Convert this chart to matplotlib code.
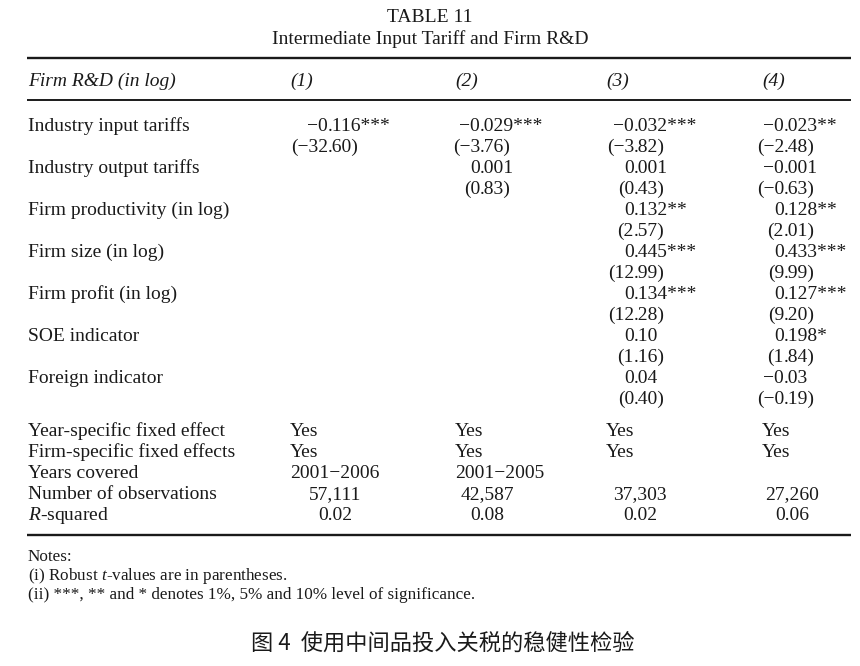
import matplotlib
matplotlib.use("Agg")
import matplotlib.pyplot as plt

# ---------------- data ----------------
title = "TABLE 11"
subtitle = "Intermediate Input Tariff and Firm R&D"
dep_var = "Firm R&D (in log)"
col_heads = ["(1)", "(2)", "(3)", "(4)"]

var_names = ["Industry input tariffs", "Industry output tariffs",
             "Firm productivity (in log)", "Firm size (in log)",
             "Firm profit (in log)", "SOE indicator", "Foreign indicator"]

coef_1 = ["\u22120.116***", "", "", "", "", "", ""]
coef_2 = ["\u22120.029***", "0.001", "", "", "", "", ""]
coef_3 = ["\u22120.032***", "0.001", "0.132**", "0.445***", "0.134***", "0.10", "0.04"]
coef_4 = ["\u22120.023**", "\u22120.001", "0.128**", "0.433***", "0.127***", "0.198*", "\u22120.03"]

tval_1 = ["(\u221232.60)", "", "", "", "", "", ""]
tval_2 = ["(\u22123.76)", "(0.83)", "", "", "", "", ""]
tval_3 = ["(\u22123.82)", "(0.43)", "(2.57)", "(12.99)", "(12.28)", "(1.16)", "(0.40)"]
tval_4 = ["(\u22122.48)", "(\u22120.63)", "(2.01)", "(9.99)", "(9.20)", "(1.84)", "(\u22120.19)"]

ctrl_labels = ["Year-specific fixed effect", "Firm-specific fixed effects", "Years covered"]
year_fe = ["Yes", "Yes", "Yes", "Yes"]
firm_fe = ["Yes", "Yes", "Yes", "Yes"]
years_covered = ["2001\u22122006", "2001\u22122005", "", ""]

stat_labels = ["Number of observations", "$R$-squared"]
n_obs = ["57,111", "42,587", "37,303", "27,260"]
r_squared = ["0.02", "0.08", "0.02", "0.06"]

notes = ["Notes:",
         "(i) Robust $t$-values are in parentheses.",
         "(ii) ***, ** and * denotes 1%, 5% and 10% level of significance."]
caption = "图 4  使用中间品投入关税的稳健性检验"

# ---------------- style ----------------
SERIF = ["Liberation Serif", "DejaVu Serif"]
plt.rcParams["font.family"] = SERIF
plt.rcParams["mathtext.fontset"] = "custom"
plt.rcParams["mathtext.rm"] = "Liberation Serif"
plt.rcParams["mathtext.it"] = "Liberation Serif:italic"
FS = 14.0
COL = "#1a1a1a"

fig = plt.figure(figsize=(8.6, 6.66), dpi=100)
ax = fig.add_axes([0, 0, 1, 1])
ax.set_xlim(0, 860)
ax.set_ylim(666, 0)
ax.axis("off")

LEFT = 28
LINE_X0, LINE_X1 = 27, 851
col_left = [290, 455, 606, 762]
col_dec = [328, 480, 634, 784]
col_ctr = [335, 487, 640, 792]


def t(x, y, s, ha="left", size=FS, style="normal", family=None):
    ax.text(x, y, s, ha=ha, va="baseline", fontsize=size, color=COL,
            style=style, family=family if family else SERIF)


def dec(x, y, s):
    if not s:
        return
    if "." in s:
        a, b = s.split(".", 1)
        t(x, y, a, ha="right")
        t(x, y, "." + b, ha="left")
    else:
        t(x, y, s, ha="center")


# titles
t(430, 22, title, ha="center")
t(430, 44, subtitle, ha="center")
ax.plot([LINE_X0, LINE_X1], [58, 58], color=COL, lw=1.7, solid_capstyle="butt")

# header
t(LEFT, 86, dep_var, style="italic")
for x, h in zip(col_left, col_heads):
    t(x, 86, h, style="italic")
ax.plot([LINE_X0, LINE_X1], [100, 100], color=COL, lw=1.4, solid_capstyle="butt")

# coefficient block
coefs = [coef_1, coef_2, coef_3, coef_4]
tvals = [tval_1, tval_2, tval_3, tval_4]
y0, step = 131, 42
for i, name in enumerate(var_names):
    yb = y0 + i * step
    t(LEFT, yb, name)
    for j in range(4):
        dec(col_dec[j], yb, coefs[j][i])
        dec(col_dec[j], yb + 21, tvals[j][i])

# controls block
ctrl_rows = [year_fe, firm_fe, years_covered]
yb = 436
for lab, row in zip(ctrl_labels, ctrl_rows):
    t(LEFT, yb, lab)
    for j, v in enumerate(row):
        t(col_left[j], yb, v)
    yb += 21
for lab, row in zip(stat_labels, [n_obs, r_squared]):
    t(LEFT, yb, lab)
    for j, v in enumerate(row):
        t(col_ctr[j], yb, v, ha="center")
    yb += 21

ax.plot([LINE_X0, LINE_X1], [535, 535], color=COL, lw=1.7, solid_capstyle="butt")

# notes
for k, n in enumerate(notes):
    t(LEFT, 561 + k * 19, n, size=12.3)

# caption
ax.text(443, 650, caption, ha="center", va="baseline", fontsize=16, color=COL,
        family=["Noto Sans CJK SC", "DejaVu Sans"])

fig.savefig("out.png", dpi=100, facecolor="white")
